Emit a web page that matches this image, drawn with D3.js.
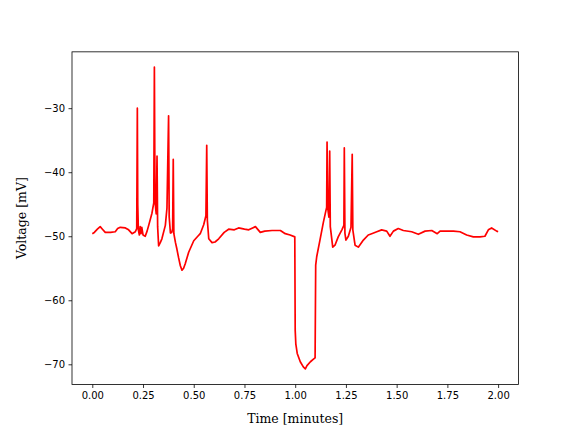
<!DOCTYPE html>
<html><head><meta charset="utf-8">
<script src="https://cdn.jsdelivr.net/npm/d3@7"></script>
<style>body{margin:0;background:#fff}svg{display:block}</style>
</head><body>
<svg id="chart" width="576" height="432"></svg>
<script>
const timeMin = [0.000,0.010,0.025,0.039,0.050,0.064,0.090,0.113,0.125,0.138,0.163,0.179,0.196,0.212,0.219,0.222,0.224,0.227,0.232,0.236,0.240,0.244,0.250,0.261,0.270,0.278,0.294,0.303,0.306,0.309,0.315,0.319,0.322,0.327,0.335,0.343,0.360,0.368,0.376,0.379,0.385,0.392,0.396,0.399,0.402,0.410,0.417,0.425,0.434,0.442,0.450,0.458,0.475,0.500,0.520,0.532,0.549,0.560,0.564,0.567,0.574,0.590,0.605,0.623,0.650,0.672,0.700,0.721,0.750,0.771,0.790,0.804,0.828,0.850,0.886,0.927,0.951,0.975,0.998,1.000,1.003,1.010,1.025,1.040,1.050,1.058,1.075,1.090,1.098,1.101,1.106,1.122,1.139,1.150,1.155,1.157,1.160,1.166,1.170,1.173,1.185,1.196,1.212,1.230,1.240,1.242,1.245,1.250,1.262,1.275,1.281,1.284,1.295,1.311,1.336,1.360,1.377,1.402,1.426,1.451,1.467,1.484,1.508,1.533,1.574,1.607,1.640,1.673,1.700,1.714,1.747,1.780,1.812,1.845,1.878,1.911,1.935,1.952,1.968,1.993,2.000];
const voltageMV = [-49.6,-49.4,-48.9,-48.5,-48.9,-49.4,-49.4,-49.3,-48.8,-48.6,-48.7,-49.0,-49.6,-49.3,-48.8,-30.0,-45.0,-49.0,-49.8,-48.5,-49.6,-48.6,-49.8,-50.0,-49.2,-48.3,-46.4,-44.8,-23.6,-44.5,-46.5,-37.5,-48.5,-51.5,-51.0,-50.4,-48.3,-45.6,-31.2,-47.0,-49.5,-49.4,-48.8,-38.0,-49.6,-51.0,-52.0,-53.3,-54.6,-55.3,-55.0,-54.3,-52.5,-50.7,-50.0,-49.6,-48.2,-46.8,-35.8,-47.5,-50.4,-51.0,-50.9,-50.4,-49.4,-48.9,-49.0,-48.7,-48.9,-49.0,-48.7,-48.5,-49.4,-49.2,-49.1,-49.1,-49.6,-49.8,-50.1,-64.7,-66.8,-68.3,-69.6,-70.4,-70.7,-70.2,-69.6,-69.2,-69.0,-54.5,-53.2,-50.6,-47.8,-46.2,-45.5,-35.3,-45.5,-47.0,-36.7,-48.5,-51.7,-51.4,-50.1,-49.0,-48.3,-36.2,-49.5,-50.6,-50.0,-48.6,-37.2,-49.0,-51.4,-51.7,-50.6,-49.8,-49.6,-49.3,-49.0,-49.2,-50.0,-49.2,-48.8,-49.1,-49.3,-49.7,-49.2,-49.1,-49.6,-49.2,-49.2,-49.2,-49.3,-49.8,-50.1,-50.1,-50.0,-49.0,-48.7,-49.2,-49.3];
const xTicks = [0.00,0.25,0.50,0.75,1.00,1.25,1.50,1.75,2.00];
const yTicks = [-70,-60,-50,-40,-30];
const xLabel = "Time [minutes]";
const yLabel = "Voltage [mV]";

const svg = d3.select("#chart");
const L = 72, R = 518.4, T = 51.84, B = 384.48;
const x = d3.scaleLinear().domain([-0.1, 2.1]).range([L, R]);
const y = d3.scaleLinear().domain([-73.15, -21.2]).range([B, T]);
const fmtX = d3.format(".2f");
const minus = s => s.replace("-", "\u2212");

const pts = timeMin.map((t, i) => [t, voltageMV[i]]);
svg.append("defs").append("clipPath").attr("id","clip")
  .append("rect").attr("x",L).attr("y",T).attr("width",R-L).attr("height",B-T);
svg.append("path").datum(pts)
  .attr("clip-path","url(#clip)")
  .attr("fill","none").attr("stroke","#ff0000").attr("stroke-width",1.7)
  .attr("stroke-linejoin","round")
  .attr("d", d3.line().x(d => x(d[0])).y(d => y(d[1])));

const xAxis = svg.append("g").attr("transform",`translate(0,${B})`)
  .call(d3.axisBottom(x).tickValues(xTicks).tickFormat(d => minus(fmtX(d))).tickSize(3.5).tickPadding(3.5));
const yAxis = svg.append("g").attr("transform",`translate(${L},0)`)
  .call(d3.axisLeft(y).tickValues(yTicks).tickFormat(d => minus(String(d))).tickSize(3.5).tickPadding(3.5));
[xAxis, yAxis].forEach(g => {
  g.select(".domain").remove();
  g.selectAll(".tick line").attr("stroke","#000").attr("stroke-width",0.8);
  g.selectAll(".tick text").attr("fill","#000").style("font-family","DejaVu Sans").style("font-size","10px");
});
svg.append("rect").attr("x",L).attr("y",T).attr("width",R-L).attr("height",B-T)
  .attr("fill","none").attr("stroke","#000").attr("stroke-width",0.8);

svg.append("text").attr("x",(L+R)/2).attr("y",422.5).attr("text-anchor","middle")
  .style("font-family","DejaVu Serif").style("font-size","12.5px").attr("fill","#000").text(xLabel);
svg.append("text").attr("transform",`translate(25.5,${(T+B)/2}) rotate(-90)`).attr("text-anchor","middle")
  .style("font-family","DejaVu Serif").style("font-size","12.5px").attr("fill","#000").text(yLabel);
</script>
</body></html>
